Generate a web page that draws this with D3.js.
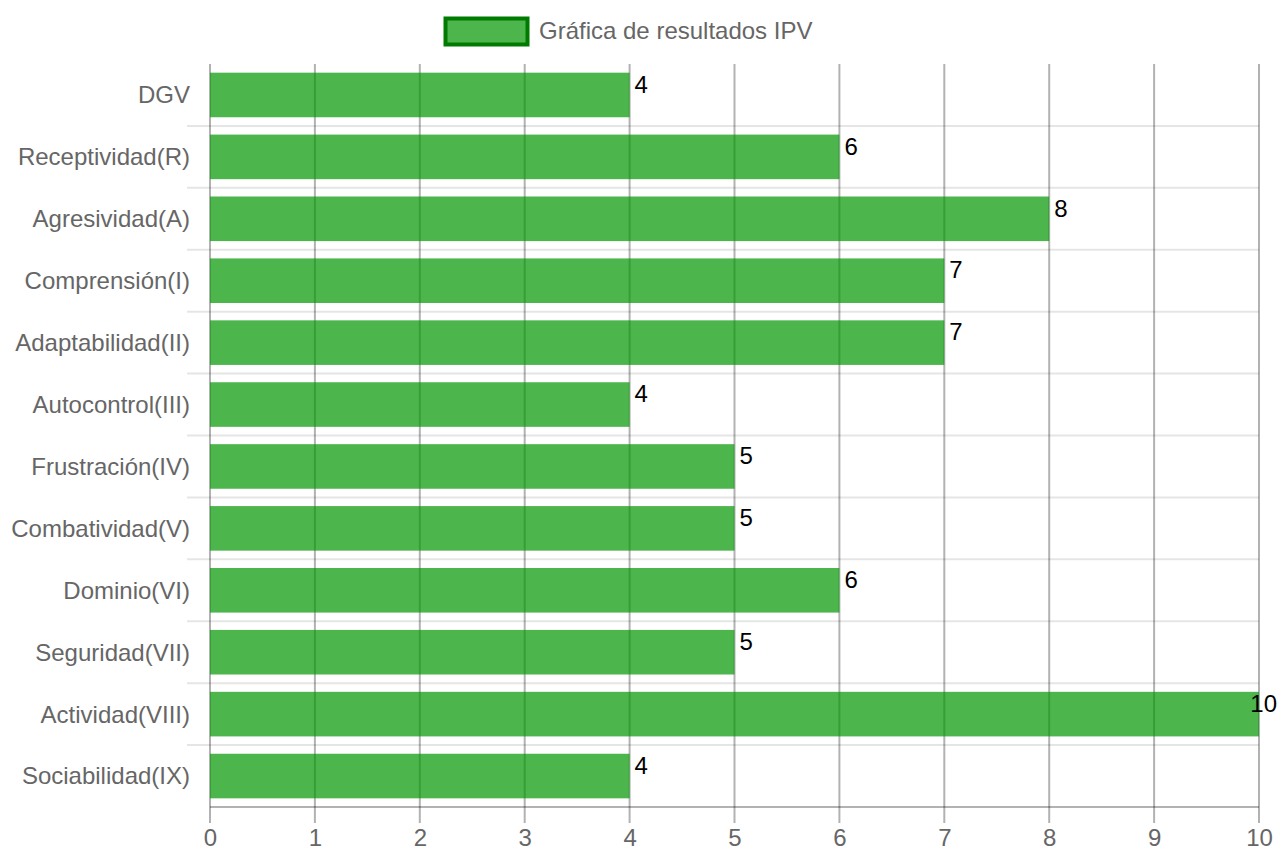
<!DOCTYPE html>
<html><head><meta charset="utf-8">
<script src="https://cdn.jsdelivr.net/npm/d3@7"></script>
<style>body{margin:0;background:#fff;overflow:hidden}svg{display:block}</style>
</head><body><svg id="c" width="1278" height="862"></svg>
<script>
const categories = ["DGV","Receptividad(R)","Agresividad(A)","Comprensión(I)","Adaptabilidad(II)","Autocontrol(III)","Frustración(IV)","Combatividad(V)","Dominio(VI)","Seguridad(VII)","Actividad(VIII)","Sociabilidad(IX)"];
const values = [4,6,8,7,7,4,5,5,6,5,10,4];
const xTicks = [0,1,2,3,4,5,6,7,8,9,10];
const seriesName = "Gráfica de resultados IPV";

const W = 1278;
const svg = d3.select("#c");
const font = "'Liberation Sans', Arial, Helvetica, sans-serif";
const L = 210, R = 1259, T = 64, B = 807;
const x = d3.scaleLinear().domain([0,10]).range([L,R]);
const y = d3.scaleBand().domain(categories).range([T,B]).padding(0);
const barH = y.bandwidth()*0.72;

// horizontal grid lines (between categories)
const hg = svg.append("g");
categories.slice(1).forEach(c=>{
  hg.append("line").attr("x1",187).attr("x2",R).attr("y1",y(c)).attr("y2",y(c))
    .attr("stroke","#000").attr("stroke-opacity",0.1).attr("stroke-width",2);
});
// vertical grid lines
const xAxis = d3.axisBottom(x).tickValues(xTicks).tickSize(0).tickFormat(d3.format("d"));
const vg = svg.append("g");
xTicks.forEach(t=>{
  vg.append("line").attr("x1",x(t)).attr("x2",x(t)).attr("y1",T).attr("y2",823)
    .attr("stroke","#000").attr("stroke-opacity",0.3).attr("stroke-width",2);
});
// bottom axis line
svg.append("line").attr("x1",L).attr("x2",R).attr("y1",B).attr("y2",B)
  .attr("stroke","#000").attr("stroke-opacity",0.3).attr("stroke-width",2);

// bars
svg.append("g").selectAll("rect").data(values).join("rect")
  .attr("x",x(0)).attr("y",(d,i)=>y(categories[i])+(y.bandwidth()-barH)/2)
  .attr("width",d=>x(d)-x(0)).attr("height",barH)
  .attr("fill","rgb(0,150,0)").attr("fill-opacity",0.7);

// value labels
svg.append("g").selectAll("text").data(values).join("text")
  .attr("y",(d,i)=>y(categories[i])+(y.bandwidth()-barH)/2+20)
  .attr("font-family",font).attr("font-size",24).attr("fill","#000")
  .text(d=>d)
  .each(function(d){
    const w = this.getComputedTextLength();
    d3.select(this).attr("x", Math.min(x(d)+5, W - w - 1));
  });

// x axis labels
const gx = svg.append("g").attr("transform",`translate(0,${B})`).call(xAxis);
gx.select(".domain").remove();
gx.selectAll("text").attr("font-family",font).attr("font-size",24).attr("fill","#666").attr("dy",0).attr("y",39);

// y axis labels
const yAxis = d3.axisLeft(y).tickSize(0);
const gy = svg.append("g").attr("transform",`translate(190,0)`).call(yAxis);
gy.select(".domain").remove();
gy.selectAll("text").attr("font-family",font).attr("font-size",24).attr("fill","#666").attr("x",0).attr("dy","0.35em");

// legend
const lg = svg.append("g");
lg.append("rect").attr("x",445.5).attr("y",18.5).attr("width",82).attr("height",26)
  .attr("fill","rgb(0,150,0)").attr("fill-opacity",0.7).attr("stroke","#007a00").attr("stroke-width",4);
lg.append("text").attr("x",539).attr("y",31).attr("dy","0.35em")
  .attr("font-family",font).attr("font-size",24).attr("fill","#666").text(seriesName);
</script></body></html>
